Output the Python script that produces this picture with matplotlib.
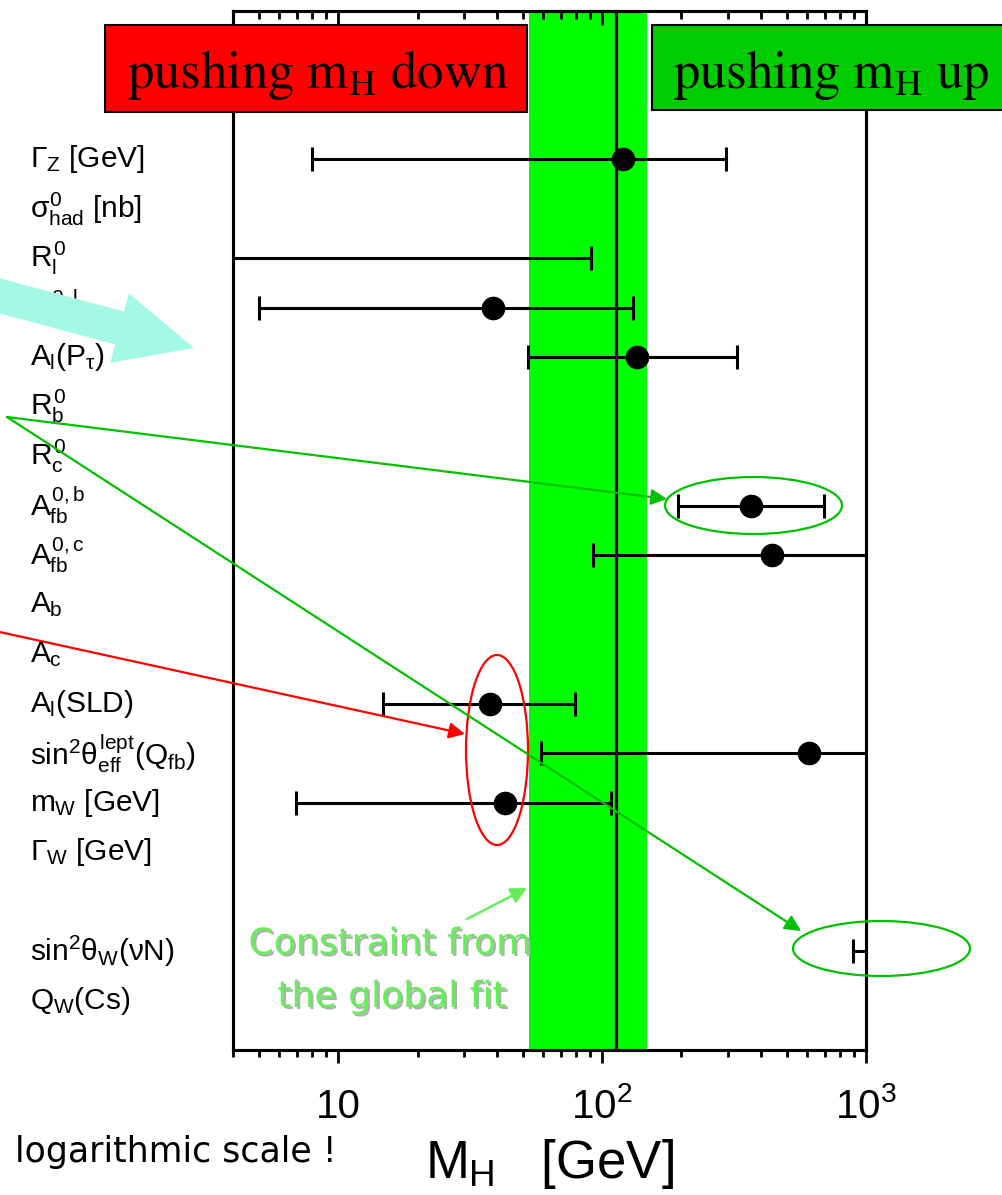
import numpy as np
import matplotlib
matplotlib.use('Agg')
import matplotlib.pyplot as plt
import matplotlib.patheffects as pe
from matplotlib.patches import Rectangle, Ellipse, FancyArrow
from matplotlib.transforms import blended_transform_factory

plt.rcParams['font.family'] = 'Liberation Sans'
plt.rcParams['mathtext.fontset'] = 'custom'
plt.rcParams['mathtext.rm'] = 'Liberation Sans'
plt.rcParams['mathtext.it'] = 'Liberation Sans'
plt.rcParams['mathtext.bf'] = 'Liberation Sans:bold'

# electroweak observables, top to bottom (row index on the y axis)
labels = [r'$\Gamma_Z$ [GeV]', r'$\sigma^0_{had}$ [nb]', r'$R^0_l$', r'$A^{0,l}_{fb}$',
          r'$A_l(P_\tau)$', r'$R^0_b$', r'$R^0_c$', r'$A^{0,b}_{fb}$', r'$A^{0,c}_{fb}$',
          r'$A_b$', r'$A_c$', r'$A_l$(SLD)', r'$\mathrm{sin}^2\theta^{lept}_{eff}(Q_{fb})$',
          r'$m_W$ [GeV]', r'$\Gamma_W$ [GeV]', r'$\mathrm{sin}^2\theta_W(\nu N)$', r'$Q_W$(Cs)']
rows = [0, 1, 2, 3, 4, 5, 6, 7, 8, 9, 10, 11, 12, 13, 14, 16, 17]

# M_H preferred by each observable alone, with its 1 sigma range [GeV]
# (nan: off the plotted range)
mh_central = [120, np.nan, 2.0, 38.6, 136, np.nan, np.nan, 366, 440,
              np.nan, np.nan, 37.7, 608, 43, np.nan, 3000, np.nan]
mh_low = [8.0, np.nan, 0.5, 5.0, 52.5, np.nan, np.nan, 194, 92.4,
          np.nan, np.nan, 14.8, 58.8, 6.9, np.nan, 893, np.nan]
mh_high = [295, np.nan, 91, 131, 324, np.nan, np.nan, 693, 1900,
           np.nan, np.nan, 79, 3000, 108, np.nan, 9000, np.nan]

# global fit
mh_fit = 113
fit_low, fit_high = 53, 148

W, H = 1002, 1195
fig = plt.figure(figsize=(W / 100, H / 100), dpi=100)
ax = fig.add_axes([233 / W, 1 - 1050 / H, (866 - 233) / W, (1050 - 11) / H])
ax.set_xscale('log')
ax.set_xlim(4, 1000)
ax.set_ylim(18, -3)

ax.axvspan(fit_low, fit_high, color='#00ff00', lw=0, zorder=0)
ax.axvline(mh_fit, color='black', lw=2.3, zorder=1)

c = np.array(mh_central, float)
lo = np.array(mh_low, float)
hi = np.array(mh_high, float)
y = np.array(rows, float)
ok = ~np.isnan(c)
ax.errorbar(c[ok], y[ok], xerr=[c[ok] - lo[ok], hi[ok] - c[ok]], fmt='o',
            color='black', ms=16, lw=2.2, capsize=8.5, capthick=2.2, zorder=3)

for s in ax.spines.values():
    s.set_linewidth(2.2)
ax.set_yticks([])
ax.set_xticks([10, 100, 1000], labels=['10', r'$10^{2}$', r'$10^{3}$'])
ax.xaxis.set_minor_formatter(matplotlib.ticker.NullFormatter())
ax.tick_params(axis='x', which='major', direction='out', length=9, width=2,
               labelsize=29, pad=40)
ax.tick_params(axis='x', which='minor', direction='out', length=5, width=2)
for t in ax.get_xticklabels():
    t.set_verticalalignment('baseline')
ax.set_xlabel(r'$M_H$   [GeV]', fontsize=38, va='baseline')
ax.xaxis.set_label_coords(0.5, (1050 - 1178) / (1050 - 11))

# inward ticks along the top edge
top = ax.twiny()
top.set_xscale('log')
top.set_xlim(ax.get_xlim())
top.set_xticks([10, 100, 1000])
top.tick_params(axis='x', which='major', direction='in', length=10, width=2,
                labeltop=False)
top.tick_params(axis='x', which='minor', direction='in', length=6, width=2)
top.xaxis.set_minor_formatter(matplotlib.ticker.NullFormatter())
for s in top.spines.values():
    s.set_linewidth(2.2)

# pixel overlay for annotations
px = fig.add_axes([0, 0, 1, 1], zorder=5)
px.set_xlim(0, W)
px.set_ylim(H, 0)
px.axis('off')
px.patch.set_visible(False)

lab_tr = blended_transform_factory(px.transData, ax.transData)
for lab, r in zip(labels, rows):
    z = 5 if 'P_' in lab else 3
    ax.text(30, r, lab, transform=lab_tr, fontsize=21.5, ha='left', va='center',
            clip_on=False, zorder=z)

cyan = FancyArrow(-28, 288.4, 222, 59.6, width=34, head_width=72, head_length=77,
                  length_includes_head=True, color='#a4f9e4', lw=0,
                  transform=px.transData, clip_on=False, zorder=4)
ax.add_artist(cyan)

# boxes at the top
px.add_patch(Rectangle((105, 25), 422, 87, facecolor='#ff0000', edgecolor='black', lw=1.5))
px.add_patch(Rectangle((652, 25), 370, 85, facecolor='#00cc00', edgecolor='black', lw=1.5))
px.text(127, 88, r'$\mathrm{pushing\ m_H\ down}$', math_fontfamily='stix', fontsize=38,
        ha='left', va='baseline')
px.text(673, 88, r'$\mathrm{pushing\ m_H\ up}$', math_fontfamily='stix', fontsize=38,
        ha='left', va='baseline')

# highlighted measurements
green = '#00c000'
px.add_patch(Ellipse((753.5, 505.5), 177, 57, fill=False, edgecolor=green, lw=1.6))
px.add_patch(Ellipse((881.5, 948.5), 177, 55, fill=False, edgecolor=green, lw=1.6))
px.add_patch(Ellipse((497, 750), 62, 190, fill=False, edgecolor='#ff0000', lw=1.6))

arrow = dict(arrowstyle='-|>', mutation_scale=24, shrinkA=0, shrinkB=0)
px.annotate('', xy=(667, 499), xytext=(7, 417),
            arrowprops=dict(arrow, color=green, lw=1.6))
px.annotate('', xy=(801, 931), xytext=(7, 417),
            arrowprops=dict(arrow, color=green, lw=1.6))
px.annotate('', xy=(465, 734), xytext=(-5, 631),
            arrowprops=dict(arrow, color='#ff0000', lw=1.6))

light = '#66ee5a'
shadow = [pe.withSimplePatchShadow(offset=(1.5, -1.5), shadow_rgbFace='#b0b0b0', alpha=1)]
px.text(390, 954, 'Constraint from', family='DejaVu Sans', fontsize=26, color=light,
        ha='center', va='baseline', path_effects=shadow)
px.text(392, 1007, 'the global fit', family='DejaVu Sans', fontsize=26, color=light,
        ha='center', va='baseline', path_effects=shadow)
px.annotate('', xy=(527, 888), xytext=(467, 919),
            arrowprops=dict(arrow, color=light, lw=1.8))

px.text(15, 1162, 'logarithmic scale !', family='DejaVu Sans', fontsize=25,
        ha='left', va='baseline')

fig.savefig('out.png', dpi=100)
